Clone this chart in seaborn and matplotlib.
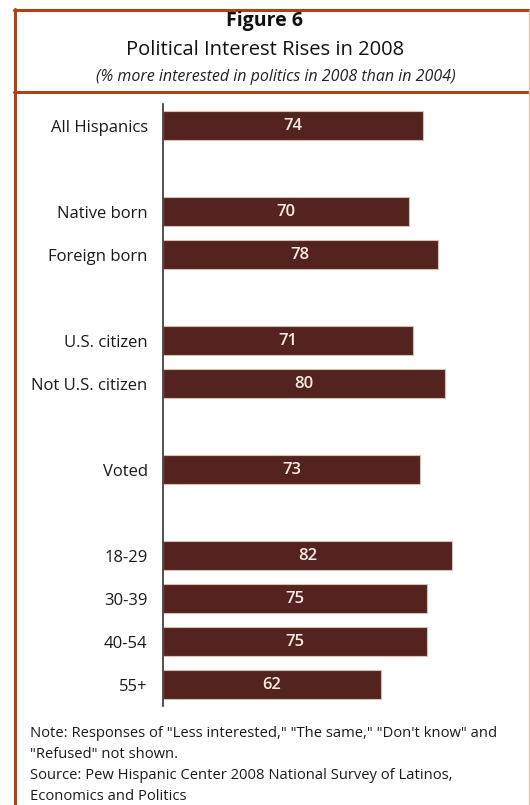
import matplotlib
matplotlib.use("Agg")
import matplotlib.pyplot as plt
from matplotlib.lines import Line2D
import pandas as pd
import seaborn as sns

# Survey groups, their row slots (blank slots separate the groups) and values
groups = ["All Hispanics", "Native born", "Foreign born", "U.S. citizen",
          "Not U.S. citizen", "Voted", "18-29", "30-39", "40-54", "55+"]
slots = [0, 2, 3, 5, 6, 8, 10, 11, 12, 13]
values = [74, 70, 78, 71, 80, 73, 82, 75, 75, 62]

title = "Figure 6"
subtitle = "Political Interest Rises in 2008"
caption = "(% more interested in politics in 2008 than in 2004)"
notes = [
    "Note: Responses of \"Less interested,\" \"The same,\" \"Don't know\" and",
    "\"Refused\" not shown.",
    "Source: Pew Hispanic Center 2008 National Survey of Latinos,",
    "Economics and Politics",
]

sns.set_style("white")
plt.rcParams["font.family"] = ["Open Sans", "DejaVu Sans"]

W, H = 530, 805
fig = plt.figure(figsize=(W / 100, H / 100), dpi=100)
fig.patch.set_facecolor("white")

BAR = "#54231f"
FRAME = "#b5400f"

df = pd.DataFrame({"group": groups, "slot": slots, "value": values})

# axes placed in pixel terms: x 163..515, y 104..706
ax = fig.add_axes([163 / W, 1 - 706 / H, (515 - 163) / W, 602 / H])
sns.barplot(data=df, x="value", y="slot", orient="h", native_scale=True,
            color=BAR, saturation=1, width=0.68, edgecolor="#d9bfae",
            linewidth=0.8, ax=ax)
ax.set_xlim(0, 100)
ax.set_ylim(13.5, -0.5)
ax.set_yticks(slots)
ax.set_yticklabels(groups, fontsize=12, color="#1a1a1a")
ax.tick_params(axis="y", length=0, pad=11)
ax.set_xticks([])
ax.set_xlabel("")
ax.set_ylabel("")
for side in ["top", "right", "bottom"]:
    ax.spines[side].set_visible(False)
ax.spines["left"].set_color("#333333")
ax.spines["left"].set_linewidth(1.2)
ax.set_facecolor("none")

for s, v in zip(slots, values):
    ax.text(v / 2, s, f"{v}", ha="center", va="center",
            fontsize=12, fontweight="semibold", color="#f4ece4")

# frame around the figure
def hline(y, x0, x1, color, lw):
    fig.add_artist(Line2D([x0 / W, x1 / W], [1 - y / H, 1 - y / H],
                          color=color, lw=lw, transform=fig.transFigure))

def vline(x, y0, y1, color, lw):
    fig.add_artist(Line2D([x / W, x / W], [1 - y0 / H, 1 - y1 / H],
                          color=color, lw=lw, transform=fig.transFigure))

hline(10, 13.5, W, FRAME, 2.2)
hline(92, 13.5, W, FRAME, 2.2)
vline(14.5, 9, H, FRAME, 2.2)
vline(529, 10, H, "#d8c0a8", 0.9)

# titles
fig.text(265 / W, 1 - 21 / H, title, ha="center", va="center",
         fontsize=14, fontweight="bold", color="#111111")
fig.text(265 / W, 1 - 50 / H, subtitle, ha="center", va="center",
         fontsize=14.5, color="#111111")
fig.text(276 / W, 1 - 77 / H, caption, ha="center", va="center",
         fontsize=11.5, style="italic", color="#222222")

# notes
for i, line in enumerate(notes):
    fig.text(30 / W, 1 - (733 + i * 21) / H, line, ha="left", va="center",
             fontsize=10.6, color="#1a1a1a")

fig.savefig("out.png", dpi=100)
